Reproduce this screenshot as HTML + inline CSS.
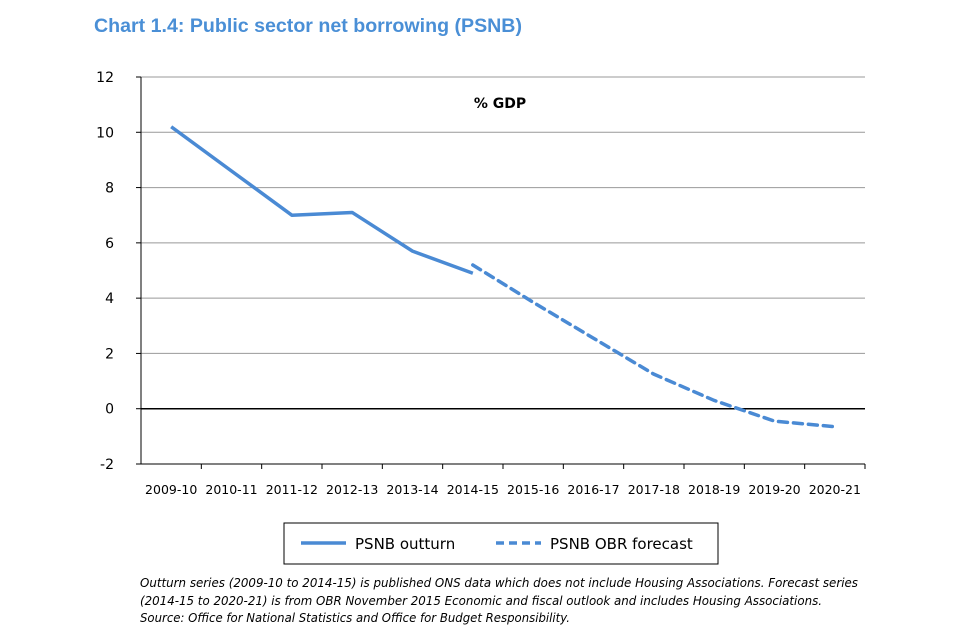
<!DOCTYPE html>
<html><head><meta charset="utf-8"><style>
body{margin:0;background:#fff;width:960px;height:640px;overflow:hidden;font-family:"DejaVu Sans","Liberation Sans",sans-serif}
</style></head><body>
<svg width="960" height="640" xmlns="http://www.w3.org/2000/svg">
<text x="94" y="32" font-size="19" font-weight="bold" fill="#4a8fd6" font-family="Liberation Sans, sans-serif" textLength="428" lengthAdjust="spacingAndGlyphs">Chart 1.4: Public sector net borrowing (PSNB)</text>
<g id="grid"></g><g id="axes"></g><g id="series"></g>
<text x="500" y="108" font-size="14" font-weight="bold" text-anchor="middle" fill="#000">% GDP</text>
<g>
<rect x="284" y="523" width="434" height="41" fill="#fff" stroke="#000" stroke-width="1"/>
<line x1="301" y1="543" x2="346" y2="543" stroke="#4a8ad4" stroke-width="3.5"/>
<text x="355" y="549" font-size="15">PSNB outturn</text>
<line x1="496" y1="543" x2="541" y2="543" stroke="#4a8ad4" stroke-width="3.5" stroke-dasharray="8,5"/>
<text x="550" y="549" font-size="15">PSNB OBR forecast</text>
</g>
<g font-size="12" font-style="italic" fill="#000">
<text x="140" y="587" textLength="718" lengthAdjust="spacingAndGlyphs">Outturn series (2009-10 to 2014-15) is published ONS data which does not include Housing Associations. Forecast series</text>
<text x="140" y="605" textLength="682" lengthAdjust="spacingAndGlyphs">(2014-15 to 2020-21) is from OBR November 2015 Economic and fiscal outlook and includes Housing Associations.</text>
<text x="140" y="622" textLength="430" lengthAdjust="spacingAndGlyphs">Source: Office for National Statistics and Office for Budget Responsibility.</text>
</g>
</svg>
<script>
const categories=["2009-10","2010-11","2011-12","2012-13","2013-14","2014-15","2015-16","2016-17","2017-18","2018-19","2019-20","2020-21"];
const outturn=[10.2,8.6,7.0,7.1,5.7,4.9,null,null,null,null,null,null];
const forecast=[null,null,null,null,null,5.2,3.85,2.55,1.25,0.3,-0.45,-0.65];
const yTicks=[-2,0,2,4,6,8,10,12];
const NS="http://www.w3.org/2000/svg";
const L=141,R=865,T=77,B=464,ymin=-2,ymax=12;
const bw=(R-L)/categories.length;
const xs=i=>L+bw*(i+0.5);
const ys=v=>B-(v-ymin)/(ymax-ymin)*(B-T);
function mk(tag,at,parent){const e=document.createElementNS(NS,tag);for(const k in at)e.setAttribute(k,at[k]);parent.appendChild(e);return e;}
const grid=document.getElementById('grid'),axes=document.getElementById('axes'),ser=document.getElementById('series');
yTicks.forEach(v=>{
 const g=mk('line',{x1:L,x2:R,y1:ys(v),y2:ys(v),stroke:v===0?'#000':'#999','stroke-width':v===0?1.5:1},grid);
 
 
 const tk=mk('line',{x1:L-5,x2:L,y1:ys(v),y2:ys(v),stroke:'#000'},axes);
 
 
 const t=mk('text',{x:L-27,y:ys(v)+5,'font-size':14,'text-anchor':'end'},axes);
 t.textContent=v;
 
 
});
const ya=mk('line',{x1:L,x2:L,y1:T,y2:B,stroke:'#000'},axes);


const xa=mk('line',{x1:L,x2:R,y1:B,y2:B,stroke:'#000'},axes);


categories.forEach((c,i)=>{
 const tk=mk('line',{x1:L+bw*(i+1),x2:L+bw*(i+1),y1:B,y2:B+5,stroke:'#000'},axes);
 
 
 const t=mk('text',{x:xs(i),y:B+30,'font-size':12.5,'text-anchor':'middle'},axes);
 t.textContent=c;
 
 
});
function path(arr){let d='';arr.forEach((v,i)=>{if(v===null)return;d+=(d?'L':'M')+xs(i)+' '+ys(v);});return d;}
const p1=mk('path',{d:path(outturn),fill:'none',stroke:'#4a8ad4','stroke-width':3.5,'stroke-linejoin':'round'},ser);


const p2=mk('path',{d:path(forecast),fill:'none',stroke:'#4a8ad4','stroke-width':3.5,'stroke-dasharray':'9,6','stroke-linecap':'round'},ser);


</script>
</body></html>
